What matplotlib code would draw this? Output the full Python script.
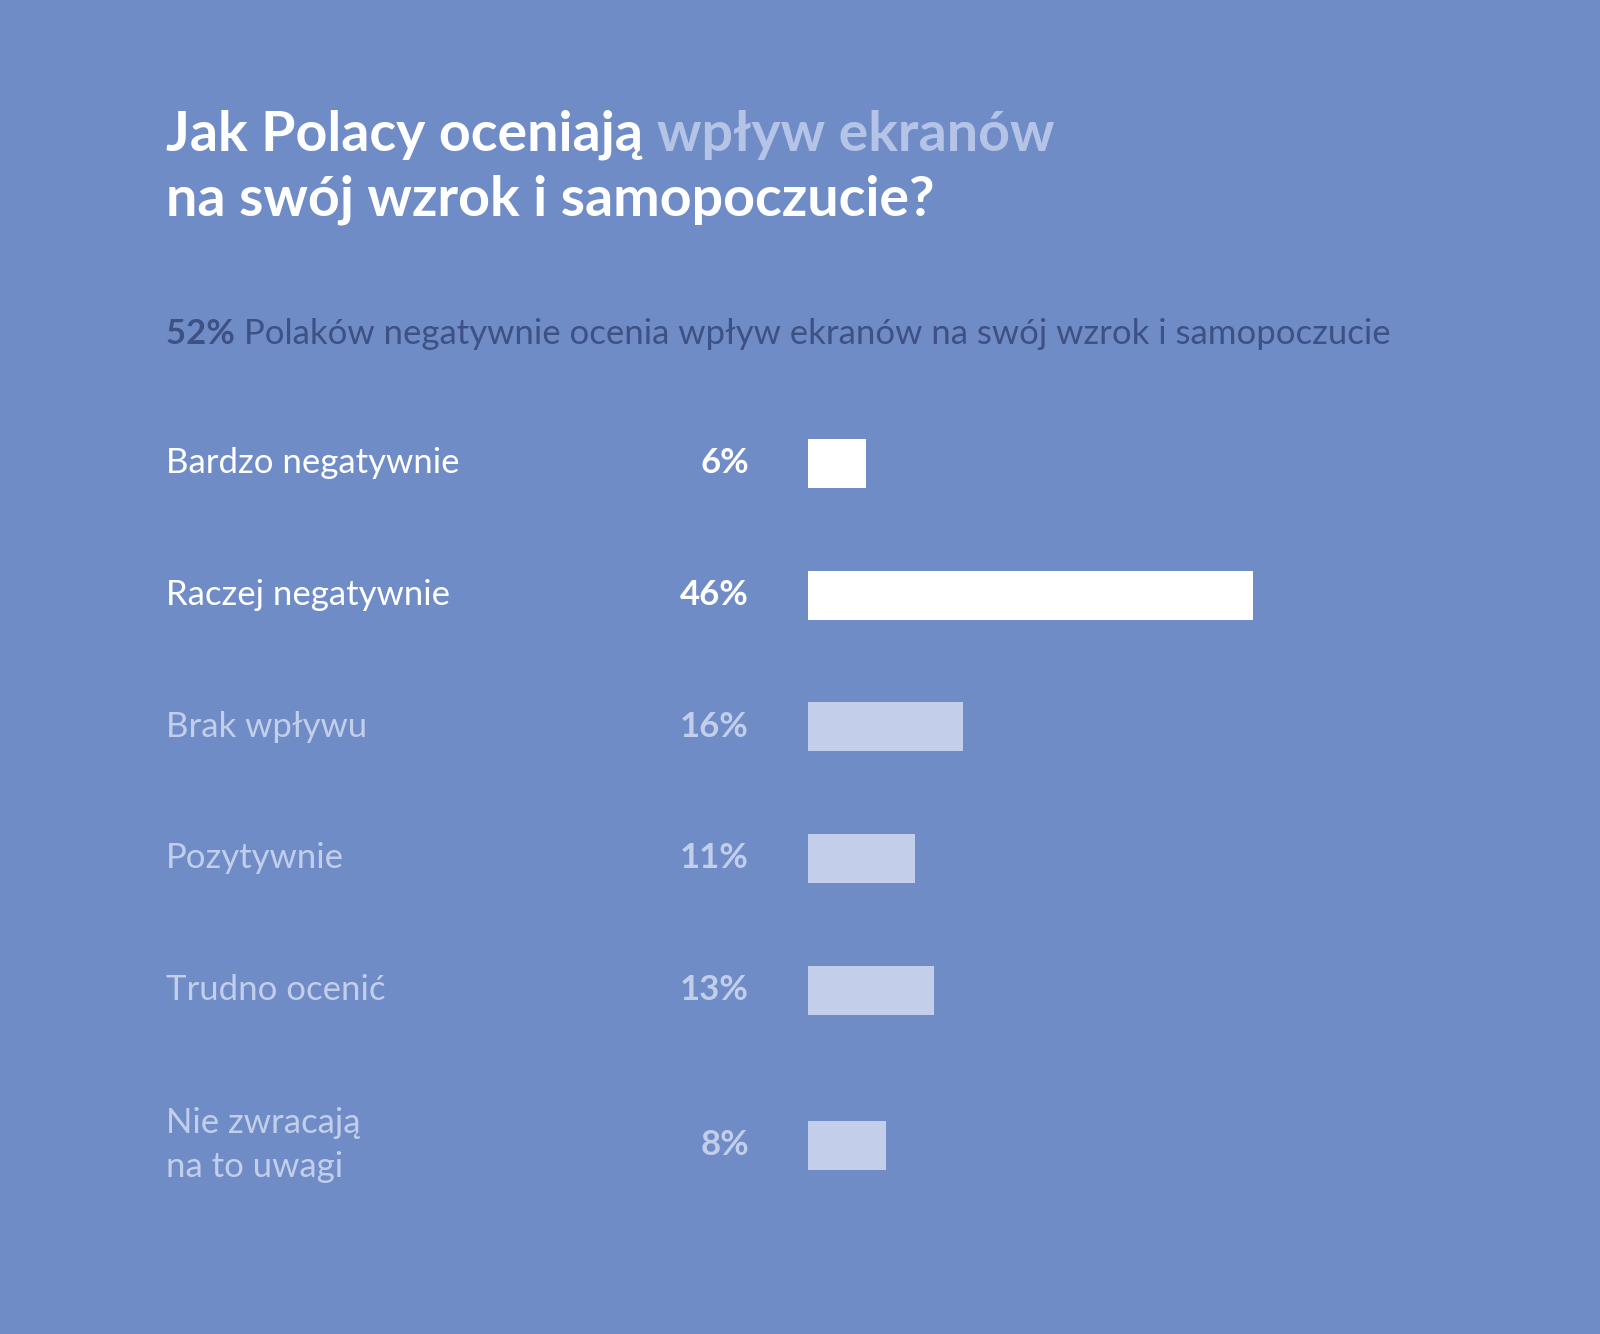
import matplotlib
matplotlib.use("Agg")
import matplotlib.pyplot as plt

categories = ["Bardzo negatywnie", "Raczej negatywnie", "Brak wpływu", "Pozytywnie", "Trudno ocenić", "Nie zwracają\nna to uwagi"]
values = [6, 46, 16, 11, 13, 8]
value_labels = ["6%", "46%", "16%", "11%", "13%", "8%"]
highlight = [True, True, False, False, False, False]

BG = "#6f8cc7"
WHITE = "#ffffff"
LIGHT = "#c3cfea"
DARK = "#3e5185"
FONT = ["Lato", "DejaVu Sans"]

W, H = 1568, 1307
fig = plt.figure(figsize=(16, 13.34), dpi=100)
fig.patch.set_facecolor(BG)

def fx(px): return px / W
def fy(py): return 1 - py / H

# title
t1 = fig.text(fx(163), fy(132), "Jak Polacy oceniają ", color=WHITE, fontsize=40, fontweight="bold", family=FONT, va="center")
fig.canvas.draw()
r = fig.canvas.get_renderer()
bb = t1.get_window_extent(r).transformed(fig.transFigure.inverted())
fig.text(bb.x1, fy(132), "wpływ ekranów", color="#b4c3e6", fontsize=40, fontweight="bold", family=FONT, va="center")
fig.text(fx(163), fy(196), "na swój wzrok i samopoczucie?", color=WHITE, fontsize=40, fontweight="bold", family=FONT, va="center")

s1 = fig.text(fx(163), fy(327), "52% ", color=DARK, fontsize=25, fontweight="bold", family=FONT, va="center")
fig.canvas.draw()
bb = s1.get_window_extent(r).transformed(fig.transFigure.inverted())
fig.text(bb.x1, fy(327), "Polaków negatywnie ocenia wpływ ekranów na swój wzrok i samopoczucie", color=DARK, fontsize=25, family=FONT, va="center")

ypos = [454, 583, 712, 841, 970, 1122]
ax = fig.add_axes([fx(792), 0, fx(474), 1])
ax.set_xlim(0, 50)
ax.set_ylim(H, 0)
ax.axis("off")
colors = [WHITE if h else LIGHT for h in highlight]
ax.barh(ypos, values, height=48, color=colors, left=0)

for y, cat, vl, h in zip(ypos, categories, value_labels, highlight):
    c = WHITE if h else LIGHT
    fig.text(fx(163), fy(y), cat, color=c, fontsize=25, family=FONT, va="center", ha="left", linespacing=1.45)
    fig.text(fx(734), fy(y), vl, color=c, fontsize=25, fontweight="bold", family=FONT, va="center", ha="right")

fig.savefig("out.png", facecolor=BG)
